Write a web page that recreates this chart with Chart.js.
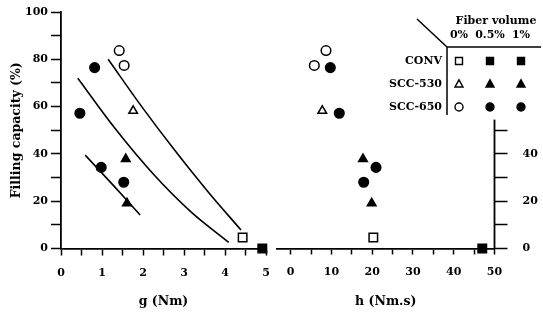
<!DOCTYPE html>
<html>
<head>
<meta charset="utf-8">
<script src="https://cdn.jsdelivr.net/npm/chart.js@4/dist/chart.umd.min.js"></script>
<style>
  body { margin: 0; background: #fff; }
  #wrap { position: relative; width: 543px; height: 312px; }
  #gChart { position: absolute; left: 0; top: 0; }
  #hChart { position: absolute; left: 270px; top: 0; }
</style>
</head>
<body>
<div id="wrap">
  <canvas id="gChart" width="270" height="312"></canvas>
  <canvas id="hChart" width="273" height="312"></canvas>
</div>
<script>
// filling capacity (%) of each mix, same order in both panels
const openCircleFill = [83.7, 77.4];              // SCC-650, 0% fiber
const filledCircleFill = [76.5, 57.2, 34.3, 28.0]; // SCC-650, 0.5% / 1%
const openTriFill = [58.2];                        // SCC-530, 0%
const filledTriFill = [37.8, 19.1];                // SCC-530, 0.5% / 1%
const openSquareFill = [4.7];                      // CONV, 0%
const filledSquareFill = [0];                      // CONV, 0.5% / 1%

// yield value g (Nm)
const gOpenCircle = [1.42, 1.54];
const gFilledCircle = [0.82, 0.46, 0.98, 1.53];
const gOpenTri = [1.76];
const gFilledTri = [1.58, 1.61];
const gOpenSquare = [4.43];
const gFilledSquare = [4.91];

// plastic viscosity h (Nm.s)
const hOpenCircle = [8.66, 5.79];
const hFilledCircle = [9.72, 11.92, 20.93, 17.91];
const hOpenTri = [7.75];
const hFilledTri = [17.74, 19.87];
const hOpenSquare = [20.27];
const hFilledSquare = [47.0];

// hand-drawn curves in the g panel
const upperCurveG = [1.15, 1.96, 2.77, 3.58, 4.39];
const upperCurveFill = [80, 60.2, 41.6, 24.1, 7.8];
const middleCurveG = [0.41, 1.33, 2.25, 3.17, 4.09];
const middleCurveFill = [72, 50.5, 31.5, 15.5, 2.6];
const lowerCurveG = [0.59, 1.26, 1.93];
const lowerCurveFill = [39.5, 27, 14.2];

// ticks
const gTicks = [0, 0.5, 1, 1.5, 2, 2.5, 3, 3.5, 4, 4.5, 5];
const gLabels = [0, 1, 2, 3, 4, 5];
const hTicks = [0, 5, 10, 15, 20, 25, 30, 35, 40, 45, 50];
const hLabels = [0, 10, 20, 30, 40, 50];
const fillTicksLeft = [0, 10, 20, 30, 40, 50, 60, 70, 80, 90, 100];
const fillLabelsLeft = [0, 20, 40, 60, 80, 100];
const fillTicksRight = [0, 10, 20, 30, 40, 50];
const fillLabelsRight = [0, 20, 40];
const rightAxisTop = 54.5; // the right axis line stops below the legend

// legend table
const legendTitle = 'Fiber volume';
const legendCols = ['0%', '0.5%', '1%'];
const legendRows = ['CONV', 'SCC-530', 'SCC-650'];
const legendStyles = ['rect', 'triangle', 'circle'];

const serif = "'DejaVu Serif', 'Liberation Serif', serif";
const tickFont = { family: serif, weight: 'bold', size: 11 };
const titleFont = { family: serif, weight: 'bold', size: 12.5 };

const pts = (xs, ys) => xs.map((x, i) => ({ x: x, y: ys[i] }));

function marks(xs, ys, style, hollow, radius) {
    return {
        data: pts(xs, ys),
        pointStyle: style,
        pointRadius: radius,
        pointHoverRadius: radius,
        pointBackgroundColor: hollow ? '#fff' : '#000',
        pointBorderColor: '#000',
        pointBorderWidth: 1.5,
        showLine: false,
        clip: false
    };
}

function curve(xs, ys) {
    return {
        data: pts(xs, ys),
        showLine: true,
        borderColor: '#000',
        borderWidth: 1.6,
        pointRadius: 0,
        tension: 0.35,
        clip: false
    };
}

function xAxis(min, max, tickVals, labelVals, tickLen, title) {
    return {
        type: 'linear', position: 'bottom', min: min, max: max,
        afterBuildTicks: s => { s.ticks = tickVals.map(v => ({ value: v })); },
        // fixed height, no extra side room for the end labels
        afterFit: s => { s.height = 63.5; s.paddingLeft = 0; s.paddingRight = 0; },
        grid: { drawOnChartArea: false, tickLength: tickLen, tickWidth: 1.5, tickColor: '#000' },
        border: { color: '#000', width: 1.8 },
        ticks: { color: '#000', font: tickFont, padding: 11, maxRotation: 0, autoSkip: false,
                 callback: v => labelVals.includes(v) ? String(v) : '' },
        title: { display: true, text: title, color: '#000', font: titleFont, padding: { top: 0, bottom: 3 } }
    };
}

// fixed width, and no extra top/bottom room for labels
const fixWidth = w => s => { s.width = w; s.paddingTop = 0; s.paddingBottom = 0; };

const baseOptions = {
    responsive: false,
    animation: false,
    events: [],
    plugins: { legend: { display: false }, tooltip: { enabled: false } }
};

// left panel: filling capacity vs g
new Chart(document.getElementById('gChart'), {
    type: 'scatter',
    data: {
        datasets: [
            curve(upperCurveG, upperCurveFill),
            curve(middleCurveG, middleCurveFill),
            curve(lowerCurveG, lowerCurveFill),
            marks(gOpenCircle, openCircleFill, 'circle', true, 4.8),
            marks(gFilledCircle, filledCircleFill, 'circle', false, 4.8),
            marks(gOpenTri, openTriFill, 'triangle', true, 5),
            marks(gFilledTri, filledTriFill, 'triangle', false, 5),
            marks(gOpenSquare, openSquareFill, 'rect', true, 6),
            marks(gFilledSquare, filledSquareFill, 'rect', false, 6)
        ]
    },
    options: {
        ...baseOptions,
        layout: { autoPadding: false, padding: { left: 0, top: 12, right: 4, bottom: 0 } },
        scales: {
            x: xAxis(0, 5, gTicks, gLabels, 7, 'g (Nm)'),
            y: {
                type: 'linear', position: 'left', min: 0, max: 100,
                afterBuildTicks: s => { s.ticks = fillTicksLeft.map(v => ({ value: v })); },
                afterFit: fixWidth(61),
                grid: { drawOnChartArea: false, tickLength: 10, tickWidth: 1.5, tickColor: '#000' },
                border: { color: '#000', width: 1.8 },
                ticks: { color: '#000', font: tickFont, padding: 3,
                         callback: v => fillLabelsLeft.includes(v) ? String(v) : '' },
                title: { display: true, text: 'Filling capacity (%)', color: '#000', font: titleFont, padding: { top: 9, bottom: 0 } }
            }
        }
    }
});

function drawMark(ctx, style, x, y, hollow) {
    ctx.beginPath();
    if (style === 'rect') {
        ctx.rect(x - 3.5, y - 3.5, 7, 7);
    } else if (style === 'triangle') {
        ctx.moveTo(x, y - 4.2); ctx.lineTo(x + 4, y + 3); ctx.lineTo(x - 4, y + 3); ctx.closePath();
    } else {
        ctx.arc(x, y, 4, 0, Math.PI * 2);
    }
    ctx.fillStyle = hollow ? '#fff' : '#000';
    ctx.fill();
    ctx.lineWidth = 1.4;
    ctx.stroke();
}

// right axis line (short) + legend table in the top right corner
const rightPanelExtras = {
    id: 'rightPanelExtras',
    afterDraw(chart) {
        const ctx = chart.ctx;
        const yScale = chart.scales.y;
        ctx.save();
        ctx.strokeStyle = '#000';
        ctx.lineWidth = 1.8;
        ctx.beginPath();
        ctx.moveTo(yScale.left, yScale.getPixelForValue(0) + 1);
        ctx.lineTo(yScale.left, yScale.getPixelForValue(rightAxisTop));
        ctx.stroke();

        const colX = [189, 220, 251];
        const rowY = [61, 84, 107];
        ctx.fillStyle = '#000';
        ctx.lineWidth = 1.5;
        ctx.font = 'bold 11px ' + serif;
        ctx.textBaseline = 'middle';
        ctx.textAlign = 'center';
        ctx.fillText(legendTitle, 226, 21);
        legendCols.forEach((c, i) => ctx.fillText(c, colX[i], 35));
        ctx.textAlign = 'right';
        legendRows.forEach((r, i) => ctx.fillText(r, 172, rowY[i]));
        ctx.beginPath();
        ctx.moveTo(147, 19); ctx.lineTo(177, 47);
        ctx.lineTo(271, 47);
        ctx.moveTo(177, 47); ctx.lineTo(177, 115);
        ctx.stroke();
        legendStyles.forEach((st, r) => {
            colX.forEach((x, c) => drawMark(ctx, st, x, rowY[r], c === 0));
        });
        ctx.restore();
    }
};

// right panel: filling capacity vs h
new Chart(document.getElementById('hChart'), {
    type: 'scatter',
    data: {
        datasets: [
            marks(hOpenCircle, openCircleFill, 'circle', true, 4.8),
            marks(hFilledCircle, filledCircleFill, 'circle', false, 4.8),
            marks(hOpenTri, openTriFill, 'triangle', true, 5),
            marks(hFilledTri, filledTriFill, 'triangle', false, 5),
            marks(hOpenSquare, openSquareFill, 'rect', true, 6),
            marks(hFilledSquare, filledSquareFill, 'rect', false, 6)
        ]
    },
    options: {
        ...baseOptions,
        layout: { autoPadding: false, padding: { left: 7, top: 12, right: 0, bottom: 0 } },
        scales: {
            x: xAxis(-3.36, 50, hTicks, hLabels, 6, 'h (Nm.s)'),
            y: {
                type: 'linear', position: 'right', min: 0, max: 100,
                afterBuildTicks: s => { s.ticks = fillTicksRight.map(v => ({ value: v })); },
                afterFit: fixWidth(48.5),
                grid: { drawOnChartArea: false, tickLength: 13, tickWidth: 1.5, tickColor: '#000' },
                border: { display: false },
                ticks: { color: '#000', font: tickFont, padding: 15,
                         callback: v => fillLabelsRight.includes(v) ? String(v) : '' }
            }
        }
    },
    plugins: [rightPanelExtras]
});
</script>
</body>
</html>
